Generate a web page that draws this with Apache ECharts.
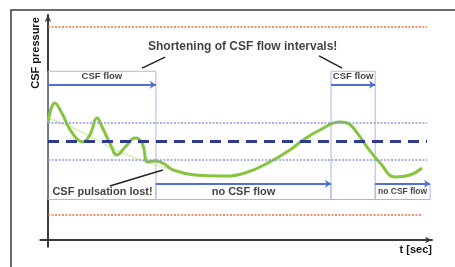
<!DOCTYPE html>
<html>
<head>
<meta charset="utf-8">
<script src="https://cdn.jsdelivr.net/npm/echarts@6/dist/echarts.min.js"></script>
<style>
  html, body { margin: 0; padding: 0; background: #fff; }
  #chart { width: 455px; height: 267px; }
</style>
</head>
<body>
<div id="chart"></div>
<script>
// time and pressure in arbitrary units (0..100)
const pressureT = [0, 1.8, 3.6, 6.3, 9.1, 10.9, 12.8, 14.1, 16.1, 18.0, 20.1, 22.7, 24.5, 26.0, 27.9, 29.9, 32.6, 38.3, 44.8, 51.3, 57.8, 63.0, 66.4, 70.8, 76.0, 77.9, 80.5, 83.1, 86.5, 90.4, 94.3, 97.4];
const pressureP = [52, 60.9, 56.4, 47.6, 43.6, 46.7, 54.2, 50.2, 43.1, 37.8, 41.3, 45.3, 43.1, 34.7, 35.1, 34.2, 31.1, 28.9, 28.4, 29.8, 34.7, 40, 44.4, 48.9, 52.4, 52, 47.6, 41.3, 34.2, 28, 28.9, 32];
const trendT = [0, 8.3, 16.1, 24, 32.6];
const trendP = [54.2, 48.4, 41.3, 35.6, 31.1];

// reference levels
const limitLevels = [94.7, 11.1];
const bandLevels = [52, 35.6];
const meanLevel = 44;
const levelEnd = 98.7;

// flow / no flow intervals
const flowIntervals = [[0, 28.1], [73.7, 85.2]];
const noFlowIntervals = [[28.1, 73.7], [85.2, 99.5]];
const flowLabels = ['CSF flow', 'CSF flow'];
const noFlowLabels = ['no CSF flow', 'no CSF flow'];

const boxBlue = '#aab6ea';
const arrowBlue = '#4d70d1';

function hLine(p, end) {
  return [{ coord: [0, p] }, { coord: [end, p] }];
}

const flowBoxes = flowIntervals.map(iv => [{ coord: [iv[0], 75] }, { coord: [iv[1], 18] }]);
const noFlowBoxes = noFlowIntervals.map(iv => [{ coord: [iv[0], 25] }, { coord: [iv[1], 18] }]);
const flowArrows = flowIntervals.map(iv => [{ coord: [iv[0], 69] }, { coord: [iv[1], 69] }]);
const noFlowArrows = noFlowIntervals.map(iv => [{ coord: [iv[0], 25] }, { coord: [iv[1], 25] }]);

const labelData = [];
flowIntervals.forEach((iv, i) => labelData.push({ value: [(iv[0] + iv[1]) / 2, 72.6], name: flowLabels[i], fs: 9.5 }));
noFlowIntervals.forEach((iv, i) => labelData.push({ value: [(iv[0] + iv[1]) / 2, 21.4], name: noFlowLabels[i], fs: i === 0 ? 11 : 8.5 }));
labelData.push({ value: [50.7, 85.8], name: 'Shortening of CSF flow intervals!', fs: 12 });
labelData.push({ value: [14.2, 21.3], name: 'CSF pulsation lost!', fs: 11 });

const chart = echarts.init(document.getElementById('chart'));
chart.setOption({
  animation: false,
  backgroundColor: '#fff',
  grid: { left: 40.3, right: 23, top: 15, bottom: 20.25 },
  xAxis: {
    type: 'value', min: -2, max: 100,
    axisLine: { onZero: true, symbol: ['none', 'arrow'], symbolSize: [5, 7], lineStyle: { color: '#3a3a3a', width: 2 } },
    axisTick: { show: false }, axisLabel: { show: false }, splitLine: { show: false }
  },
  yAxis: {
    type: 'value', min: -3, max: 100,
    axisLine: { onZero: true, symbol: ['none', 'arrow'], symbolSize: [5, 7], lineStyle: { color: '#3a3a3a', width: 2 } },
    axisTick: { show: false }, axisLabel: { show: false }, splitLine: { show: false }
  },
  graphic: [
    { type: 'rect', shape: { x: 11, y: 10, width: 470, height: 280 }, style: { fill: 'none', stroke: '#3c3c3c', lineWidth: 1.5 } },
    { type: 'text', x: 36, y: 53, rotation: Math.PI / 2, style: { text: 'CSF pressure', font: 'bold 11px "Liberation Sans", Arial', fill: '#111', align: 'center', verticalAlign: 'middle' } },
    { type: 'text', x: 432, y: 250, style: { text: 't [sec]', font: 'bold 11px "Liberation Sans", Arial', fill: '#111', align: 'right', verticalAlign: 'middle' } }
  ],
  series: [
    {
      type: 'line', data: [], silent: true,
      markLine: {
        silent: true, symbol: 'none', label: { show: false },
        data: [
          ...limitLevels.map(p => ({ ...hLine(p, levelEnd)[0], lineStyle: { color: '#f26a3c', type: [2, 1.5], width: 1.6 } })).map((s, i) => [s, { coord: [levelEnd - (i ? 1.3 : 0), limitLevels[i]] }]),
          ...bandLevels.map(p => [{ coord: [0, p], lineStyle: { color: '#8d97dc', type: [2, 1.5], width: 1.5 } }, { coord: [levelEnd, p] }]),
          [{ coord: [0, meanLevel], lineStyle: { color: '#2f3b8f', type: [11, 7], width: 3 } }, { coord: [levelEnd, meanLevel] }]
        ]
      }
    },
    {
      type: 'line', data: [], silent: true,
      markArea: {
        silent: true,
        itemStyle: { color: 'rgba(0,0,0,0)', borderColor: boxBlue, borderWidth: 1 },
        data: [...flowBoxes, ...noFlowBoxes]
      },
      markLine: {
        silent: true, symbol: ['none', 'arrow'], symbolSize: [6, 6], label: { show: false },
        lineStyle: { color: arrowBlue, type: 'solid', width: 2 },
        data: [...flowArrows, ...noFlowArrows]
      }
    },
    {
      type: 'line', data: [], silent: true,
      markLine: {
        silent: true, symbol: 'none', label: { show: false },
        lineStyle: { color: '#222', type: 'solid', width: 1.5 },
        data: [
          [{ coord: [30.5, 81.3] }, { coord: [24.5, 76.4] }],
          [{ coord: [70.6, 81.8] }, { coord: [76.6, 76.4] }],
          [{ coord: [16.1, 24] }, { coord: [29.9, 31.1] }]
        ]
      }
    },
    {
      type: 'line', smooth: 0.4, showSymbol: false, silent: true,
      data: trendT.map((t, i) => [t, trendP[i]]),
      lineStyle: { color: '#d6eab0', width: 1.5 }
    },
    {
      type: 'line', smooth: 0.45, showSymbol: false, silent: true,
      data: pressureT.map((t, i) => [t, pressureP[i]]),
      lineStyle: { color: '#86c440', width: 3 }
    },
    {
      type: 'scatter', symbolSize: 0, silent: true,
      data: labelData.map(d => ({
        value: d.value, name: d.name,
        label: { fontSize: d.fs }
      })),
      label: {
        show: true, position: 'inside', formatter: '{b}',
        color: '#111', fontWeight: 'bold', fontFamily: '"Liberation Sans", Arial'
      }
    }
  ]
});
</script>
</body>
</html>
